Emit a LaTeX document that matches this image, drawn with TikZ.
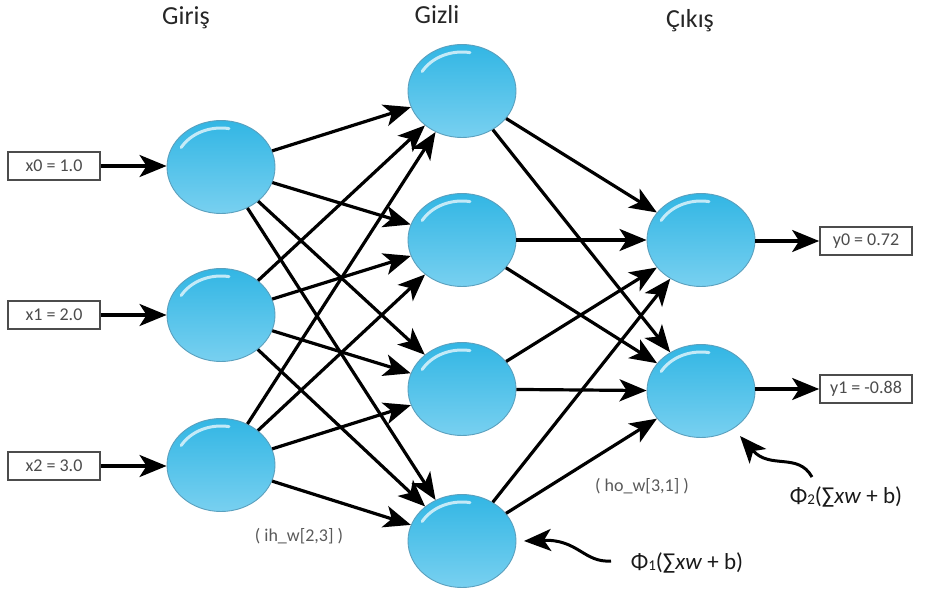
\documentclass[tikz,border=0pt]{standalone}
\usepackage{fontspec}
\setmainfont{Carlito}
\usetikzlibrary{shapes.geometric,arrows.meta}
\definecolor{neuTop}{RGB}{50,182,228}
\definecolor{neuMid}{RGB}{20,166,218}
\definecolor{neuBot}{RGB}{120,208,240}
\definecolor{neuEdge}{RGB}{90,160,190}
\tikzset{
  neuron/.style={ellipse, minimum width=108pt, minimum height=93pt, inner sep=0pt,
    draw=neuEdge, line width=0.9pt, top color=neuTop, middle color=neuMid, bottom color=neuBot,
    path picture={\draw[white,line width=3pt,opacity=0.7,line cap=round]
      (path picture bounding box.center) ++(150:46pt and 39pt)
      arc[start angle=150,end angle=80,x radius=46pt,y radius=39pt];}},
  valbox/.style={draw=black!70, line width=1.7pt, fill=white, minimum width=92pt, minimum height=28pt,
    inner sep=1pt, font=\fontsize{18}{20}\selectfont, text=black!70},
  layer/.style={font=\fontsize{26}{30}\selectfont, text=black!85, anchor=base},
  wlabel/.style={font=\fontsize{18}{20}\selectfont, text=black!65},
  philabel/.style={font=\fontsize{23}{26}\selectfont, text=black!90},
  arr/.style={line width=3.2pt, -{Stealth[length=27pt,width=22pt,inset=7pt]}},
  curvy/.style={line width=3pt, -{Stealth[length=27pt,width=22pt,inset=7pt]}}
}
\begin{document}
\begin{tikzpicture}[x=1pt,y=-1pt]
\useasboundingbox (0,0) rectangle (930,591);
% layer labels
\node[layer] (lin) at (186,25) {Giriş};
\node[layer] (lhid) at (437,24) {Gizli};
\node[layer] (lout) at (690,28) {Çıkış};
% neurons
\node[neuron] (I0) at (221,167) {};
\node[neuron] (I1) at (221,315) {};
\node[neuron] (I2) at (221,465) {};
\node[neuron] (H0) at (462,91) {};
\node[neuron] (H1) at (462,240) {};
\node[neuron] (H2) at (462,389) {};
\node[neuron] (H3) at (462,541) {};
\node[neuron] (O0) at (701,240) {};
\node[neuron] (O1) at (701,391) {};
% value boxes
\node[valbox] (x0) at (54,166) {x0 = 1.0};
\node[valbox] (x1) at (54,315) {x1 = 2.0};
\node[valbox] (x2) at (54,466) {x2 = 3.0};
\node[valbox] (y0) at (866,241) {y0 = 0.72};
\node[valbox] (y1) at (866,389) {y1 = -0.88};
% input arrows
\draw[arr] (x0.east) -- (I0.west |- x0.east);
\draw[arr] (x1.east) -- (I1.west |- x1.east);
\draw[arr] (x2.east) -- (I2.west |- x2.east);
% input -> hidden
\foreach \i in {0,1,2}{
  \foreach \h in {0,1,2,3}{
    \draw[arr] (I\i) -- (H\h);
  }
}
% hidden -> output
\foreach \h in {0,1,2,3}{
  \foreach \o in {0,1}{
    \draw[arr] (H\h) -- (O\o);
  }
}
% output arrows
\draw[arr] (O0.east |- y0.west) -- (y0.west);
\draw[arr] (O1.east |- y1.west) -- (y1.west);
% weight labels
\node[wlabel] (ihw) at (299,536) {( ih\_w[2,3] )};
\node[wlabel] (How) at (642,486) {( ho\_w[3,1] )};
% activation labels
\node[philabel] (phi2) at (846,497) {Φ\raisebox{-1pt}{\fontsize{15}{17}\selectfont 2}(∑\textit{xw} + b)};
\node[philabel] (phi1) at (687,563) {Φ\raisebox{-1pt}{\fontsize{15}{17}\selectfont 1}(∑\textit{xw} + b)};
\coordinate (t2) at (740,436);
\coordinate (t1) at (524,541);
\coordinate (s2) at (812,477);
\coordinate (s1) at (611,561);
\draw[curvy] (s2) .. controls (798,452) and (770,470) .. (t2);
\draw[curvy] (s1) .. controls (584,563) and (578,539) .. (t1);
\end{tikzpicture}
\end{document}
